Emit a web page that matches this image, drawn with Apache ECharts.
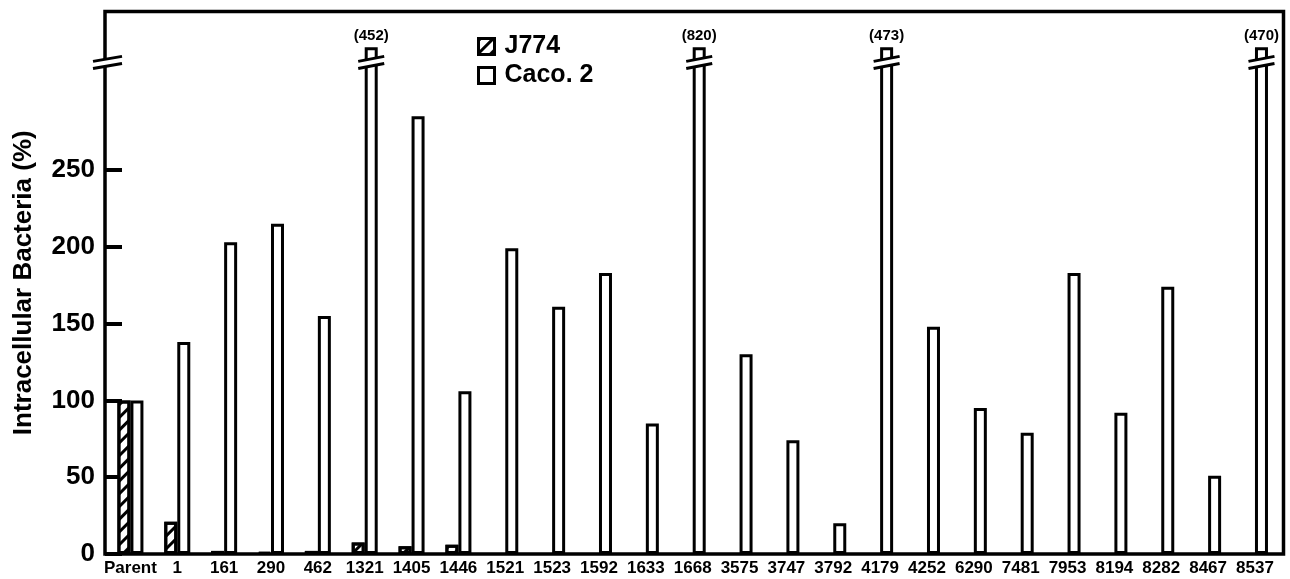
<!DOCTYPE html>
<html>
<head>
<meta charset="utf-8">
<script src="https://cdn.jsdelivr.net/npm/echarts@6/dist/echarts.min.js"></script>
<style>
html,body{margin:0;padding:0;background:#fff;}
#chart{width:1290px;height:579px;}
</style>
</head>
<body>
<div id="chart"></div>
<script>
// ---- data ----
const categories = ['Parent','1','161','290','462','1321','1405','1446','1521','1523','1592','1633','1668','3575','3747','3792','4179','4252','6290','7481','7953','8194','8282','8467','8537'];
const j774 = [100, 21, 2, 1, 2, 7.5, 5, 6, null, null, null, null, null, null, null, null, null, null, null, null, null, null, null, null, null];
const caco2 = [100, 138, 203, 215, 155, 452, 285, 106, 199, 161, 183, 85, 820, 130, 74, 20, 473, 148, 95, 79, 183, 92, 174, 51, 470];
const yTicks = [0, 50, 100, 150, 200, 250];
const seriesNames = ['J774', 'Caco. 2'];
const yTitle = 'Intracellular Bacteria (%)';

// ---- display settings ----
const Y_MAX = 353.2;
const CAP_SHOWN = 330;     // height at which off-scale bars are drawn
const BREAK_AT = 320;      // where the break marks sit
const BAR_W = 13;
const FONT = '"Liberation Sans", Arial, Helvetica, sans-serif';

const chart = echarts.init(document.getElementById('chart'), null, {renderer: 'canvas'});

const cacoData = caco2.map(v => v > CAP_SHOWN ? {
  value: CAP_SHOWN,
  label: {show: true, formatter: '(' + v + ')'}
} : v);
const brokenIdx = caco2.map((v, i) => v > CAP_SHOWN ? [i, BREAK_AT] : null).filter(d => d);

const hatch = {
  symbol: 'rect', symbolSize: 1, color: '#000',
  dashArrayX: [1, 0], dashArrayY: [2.8, 5.6], rotation: -Math.PI / 4
};

function breakShape(cx, cy, hwL, hwR, rise) {
  const h = 3.6;
  const pts = [[cx - hwL, cy - h + rise], [cx + hwR, cy - h - rise], [cx + hwR, cy + h - rise], [cx - hwL, cy + h + rise]];
  return {
    type: 'group',
    children: [
      {type: 'polygon', shape: {points: pts}, style: {fill: '#fff', stroke: null}},
      {type: 'line', shape: {x1: pts[0][0], y1: pts[0][1], x2: pts[1][0], y2: pts[1][1]}, style: {stroke: '#000', lineWidth: 3}},
      {type: 'line', shape: {x1: pts[3][0], y1: pts[3][1], x2: pts[2][0], y2: pts[2][1]}, style: {stroke: '#000', lineWidth: 3}}
    ]
  };
}

const option = {
  backgroundColor: '#fff',
  animation: false,
  textStyle: {fontFamily: FONT, color: '#000', fontWeight: 'bold'},
  legend: {
    orient: 'vertical', left: 472, top: 29,
    data: seriesNames,
    icon: 'rect', itemWidth: 16, itemHeight: 16, itemGap: 4,
    textStyle: {fontFamily: FONT, fontWeight: 'bold', fontSize: 25, color: '#000', lineHeight: 24, padding: [0, 0, 0, 5]},
    itemStyle: {borderWidth: 3, borderColor: '#000'}
  },
  grid: [
    {left: 105, right: 6.5, top: 11.5, bottom: 25, show: true, borderColor: '#000', borderWidth: 3.5, backgroundColor: 'transparent', containLabel: false},
    {left: 107, right: 11.6, top: 11.5, bottom: 25, containLabel: false}
  ],
  xAxis: [
    {type: 'value', gridIndex: 0, min: 0, max: 1, show: false},
    {
      type: 'category', gridIndex: 1, data: categories,
      axisLine: {show: false}, axisTick: {show: false},
      axisLabel: {interval: 0, margin: 6, fontFamily: FONT, fontWeight: 'bold', fontSize: 17, color: '#000'}
    }
  ],
  yAxis: [
    {
      type: 'value', gridIndex: 0, min: 0, max: Y_MAX,
      splitLine: {show: false},
      axisLine: {show: false},
      axisTick: {show: true, inside: true, length: 17, lineStyle: {color: '#000', width: 4}, customValues: yTicks},
      axisLabel: {margin: 10, fontFamily: FONT, fontWeight: 'bold', fontSize: 26, color: '#000', customValues: yTicks},
      name: yTitle, nameLocation: 'middle', nameGap: 68, nameRotate: 90,
      nameTextStyle: {fontFamily: FONT, fontWeight: 'bold', fontSize: 26, color: '#000'}
    },
    {type: 'value', gridIndex: 1, min: 0, max: Y_MAX, show: false, splitLine: {show: false}}
  ],
  series: [
    {
      name: seriesNames[0], type: 'bar', xAxisIndex: 1, yAxisIndex: 1,
      data: j774, barWidth: BAR_W, barGap: '0%',
      itemStyle: {color: '#fff', borderColor: '#000', borderWidth: 3, decal: hatch},
      z: 3
    },
    {
      name: seriesNames[1], type: 'bar', xAxisIndex: 1, yAxisIndex: 1,
      data: cacoData, barWidth: BAR_W, barGap: '0%',
      itemStyle: {color: '#fff', borderColor: '#000', borderWidth: 3},
      label: {show: false, position: 'top', distance: 4, fontFamily: FONT, fontWeight: 'bold', fontSize: 15, color: '#000'},
      z: 3
    },
    {
      type: 'custom', xAxisIndex: 1, yAxisIndex: 1, data: brokenIdx, clip: false, z: 6, silent: true,
      encode: {x: 0, y: 1},
      renderItem: function (params, api) {
        const p = api.coord([api.value(0), api.value(1)]);
        const cx = p[0] + BAR_W / 2;
        return breakShape(cx, p[1], 13, 13, 2.5);
      }
    },
    {
      type: 'custom', xAxisIndex: 0, yAxisIndex: 0, data: [[0, BREAK_AT]], clip: false, z: 6, silent: true,
      encode: {x: 0, y: 1},
      renderItem: function (params, api) {
        const p = api.coord([api.value(0), api.value(1)]);
        return breakShape(p[0], p[1], 12, 17, 2.5);
      }
    }
  ]
};
chart.setOption(option);
</script>
</body>
</html>
